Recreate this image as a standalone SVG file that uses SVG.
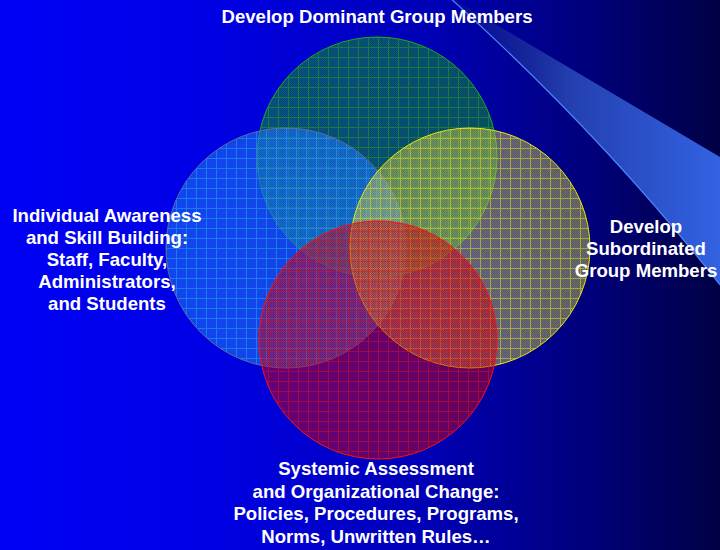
<svg xmlns="http://www.w3.org/2000/svg" width="720" height="550" viewBox="0 0 720 550">
  <defs>
    <linearGradient id="bg" x1="0" y1="0" x2="720" y2="0" gradientUnits="userSpaceOnUse">
      <stop offset="0" stop-color="#0000f6"/>
      <stop offset="0.3" stop-color="#0000e4"/>
      <stop offset="0.6" stop-color="#0000b4"/>
      <stop offset="0.82" stop-color="#00007a"/>
      <stop offset="1" stop-color="#000044"/>
    </linearGradient>
    <linearGradient id="swooshFill" x1="450" y1="0" x2="720" y2="0" gradientUnits="userSpaceOnUse">
      <stop offset="0" stop-color="#101e80" stop-opacity="0.3"/>
      <stop offset="0.45" stop-color="#2440b0"/>
      <stop offset="1" stop-color="#3262e2"/>
    </linearGradient>
    <!-- fine dither texture inside the rings -->
    <pattern id="dither" width="2" height="2" patternUnits="userSpaceOnUse">
      <rect x="0" y="0" width="1" height="1" fill="#000" fill-opacity="0.14"/>
      <rect x="1" y="1" width="1" height="1" fill="#000" fill-opacity="0.14"/>
    </pattern>
    <pattern id="gridGreen" x="8" y="7" width="10" height="10" patternUnits="userSpaceOnUse">
      <path d="M0,0.5H10M0.5,0V10" stroke="#22a624" stroke-width="1" fill="none"/>
    </pattern>
    <pattern id="gridBlue" x="6" y="8" width="10" height="10" patternUnits="userSpaceOnUse">
      <path d="M0,0.5H10M0.5,0V10" stroke="#28a0ff" stroke-width="1" fill="none"/>
    </pattern>
    <pattern id="gridYellow" x="0" y="8" width="10" height="10" patternUnits="userSpaceOnUse">
      <path d="M0,0.5H10M0.5,0V10" stroke="#e4e428" stroke-width="1" fill="none"/>
    </pattern>
    <pattern id="gridRed" x="8" y="1" width="10" height="10" patternUnits="userSpaceOnUse">
      <path d="M0,0.5H10M0.5,0V10" stroke="#f01414" stroke-width="1" fill="none"/>
    </pattern>
    <style>
      .label { font-family: "Liberation Sans", Arial, sans-serif; font-weight: bold; font-size: 18.6px; fill: #ffffff; text-anchor: middle; }
      .grid { opacity: 0.6; }
    </style>
  </defs>

  <!-- backdrop -->
  <rect x="0" y="0" width="720" height="550" fill="url(#bg)"/>

  <!-- decorative swoosh, upper right -->
  <g id="swoosh">
    <path d="M448,-4 L720,157 L720,285 C630,170 530,70 448,-4 Z" fill="url(#swooshFill)"/>
    <path d="M448,-4 C530,70 630,170 720,285" fill="none" stroke="#4c84ff" stroke-width="1.2"/>
  </g>

  <!-- four overlapping rings -->
  <g id="ring-dominant">
    <circle cx="377" cy="157" r="120" fill="#10a838" fill-opacity="0.5"/>
    <circle cx="377" cy="157" r="120" fill="url(#gridGreen)" class="grid"/>
    <circle cx="377" cy="157" r="120" fill="url(#dither)"/>
    <circle cx="377" cy="157" r="120" fill="none" stroke="#1ea81e" stroke-width="1"/>
  </g>
  <g id="ring-individual">
    <circle cx="286" cy="248" r="120" fill="#1c78ff" fill-opacity="0.6"/>
    <circle cx="286" cy="248" r="120" fill="url(#gridBlue)" class="grid"/>
    <circle cx="286" cy="248" r="120" fill="url(#dither)" opacity="0.5"/>
    <circle cx="286" cy="248" r="120" fill="none" stroke="#5a6e9a" stroke-width="1"/>
  </g>
  <g id="ring-subordinated">
    <circle cx="470" cy="248" r="120" fill="#e6e458" fill-opacity="0.46"/>
    <circle cx="470" cy="248" r="120" fill="url(#gridYellow)" class="grid"/>
    <circle cx="470" cy="248" r="120" fill="url(#dither)"/>
    <circle cx="470" cy="248" r="120" fill="none" stroke="#e8e800" stroke-width="1"/>
  </g>
  <g id="ring-systemic">
    <circle cx="378" cy="340" r="119" fill="#f00018" fill-opacity="0.45"/>
    <circle cx="378" cy="340" r="119" fill="url(#gridRed)" opacity="0.5"/>
    <circle cx="378" cy="340" r="119" fill="url(#dither)"/>
    <circle cx="378" cy="340" r="119" fill="none" stroke="#ff1010" stroke-width="1"/>
  </g>

  <!-- labels -->
  <g id="label-dominant">
    <text class="label" x="377" y="23">Develop Dominant Group Members</text>
  </g>
  <g id="label-individual">
    <text class="label" x="107" y="222">Individual Awareness</text>
    <text class="label" x="107" y="244">and Skill Building:</text>
    <text class="label" x="107" y="266">Staff, Faculty,</text>
    <text class="label" x="107" y="288">Administrators,</text>
    <text class="label" x="107" y="310">and Students</text>
  </g>
  <g id="label-subordinated">
    <text class="label" x="646" y="233">Develop</text>
    <text class="label" x="646" y="255">Subordinated</text>
    <text class="label" x="646" y="277">Group Members</text>
  </g>
  <g id="label-systemic">
    <text class="label" x="376" y="475">Systemic Assessment</text>
    <text class="label" x="376" y="498">and Organizational Change:</text>
    <text class="label" x="376" y="520">Policies, Procedures, Programs,</text>
    <text class="label" x="376" y="543">Norms, Unwritten Rules…</text>
  </g>
</svg>
